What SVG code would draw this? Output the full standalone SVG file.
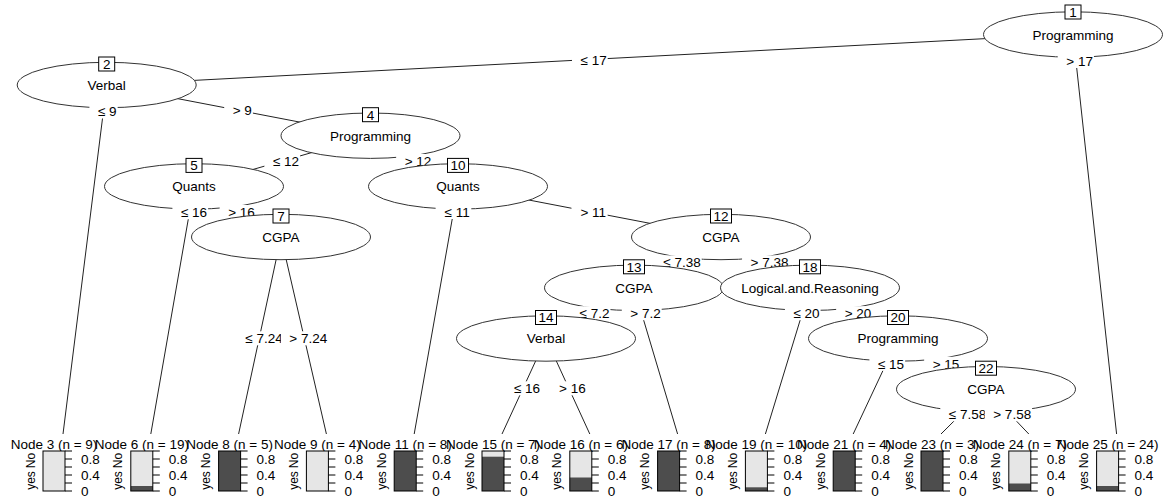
<svg xmlns="http://www.w3.org/2000/svg" xmlns:xlink="http://www.w3.org/1999/xlink" width="1166" height="497" viewBox="0 0 1166 497">
<style>
.t{font-family:"Liberation Sans",Arial,sans-serif;font-size:13.5px;fill:#000}
.c{text-anchor:middle}
.s{font-size:12px}
.ell{fill:#fff;stroke:#333;stroke-width:1}
.idb{fill:#fff;stroke:#000;stroke-width:1}
.lbg{fill:#fff}
.edge{stroke:#222;stroke-width:1;fill:none}
.lt{fill:#e6e6e6}
.dk{fill:#4d4d4d}
.bo{fill:none;stroke:#000;stroke-width:1}
</style>
<defs>
<g id="tAxis">
<path d="M11,451h7M11,459h7M11,467h7M11,475h7M11,483h7M11,491h7" stroke="#000" stroke-width="1"/>
<text class="t" x="27" y="463.8">0.8</text>
<text class="t" x="27" y="479.8">0.4</text>
<text class="t" x="27" y="495.8">0</text>
<text class="t c s" transform="translate(-19.5,460.5) rotate(-90)">No</text>
<text class="t c s" transform="translate(-19.5,480.5) rotate(-90)">yes</text>
</g>
</defs>
<rect x="0" y="0" width="1166" height="497" fill="#fff"/>
<g id="connectors" class="edge">
<path d="M1073,34L106.7,85"/>
<path d="M1073,34L1116.6,434"/>
<path d="M106.7,85L63,434"/>
<path d="M106.7,85L370.5,135.7"/>
<path d="M370.5,135.7L194,186.4"/>
<path d="M370.5,135.7L458,186.4"/>
<path d="M194,186.4L150.8,434"/>
<path d="M194,186.4L281,237"/>
<path d="M281,237L238.6,434"/>
<path d="M281,237L326.4,434"/>
<path d="M458,186.4L414.2,434"/>
<path d="M458,186.4L721,237"/>
<path d="M721,237L634,287.8"/>
<path d="M721,237L810,287.8"/>
<path d="M634,287.8L546,338.5"/>
<path d="M634,287.8L677.6,434"/>
<path d="M546,338.5L502,434"/>
<path d="M546,338.5L589.8,434"/>
<path d="M810,287.8L765.4,434"/>
<path d="M810,287.8L898,338.5"/>
<path d="M898,338.5L853.2,434"/>
<path d="M898,338.5L986,389.2"/>
<path d="M986,389.2L941,434"/>
<path d="M986,389.2L1028.8,434"/>
</g>

<g id="node1"><ellipse class="ell" cx="1073" cy="34.5" rx="89.5" ry="22.7"/><rect class="idb" x="1065" y="5" width="16" height="14"/><text class="t c" x="1073" y="16.8">1</text><text class="t c" x="1073" y="39.8">Programming</text></g>
<g id="labels1"><rect class="lbg" x="572" y="53" width="35.7" height="14"/><text class="t c" x="593.6" y="64.8">≤ 17</text><rect class="lbg" x="1057.75" y="54" width="36.2" height="14"/><text class="t c" x="1079.6" y="65.8">&gt; 17</text></g>

<g id="node2"><ellipse class="ell" cx="106.7" cy="85" rx="89.5" ry="22.7"/><rect class="idb" x="98.7" y="57" width="16" height="14"/><text class="t c" x="106.7" y="68.8">2</text><text class="t c" x="106.7" y="89.8">Verbal</text></g>
<g id="labels2"><rect class="lbg" x="89.45" y="104.5" width="28.2" height="14"/><text class="t c" x="107.3" y="116.3">≤ 9</text><rect class="lbg" x="224.2" y="103.5" width="28.7" height="14"/><text class="t c" x="242.3" y="115.3">&gt; 9</text></g>

<g id="node3" transform="translate(54,0)"><text class="t c" x="0" y="449">Node 3 (n = 9)</text><rect class="lt" x="-11" y="451" width="22" height="40"/><rect class="bo" x="-11" y="451" width="22" height="40"/><use xlink:href="#tAxis"/></g>

<g id="node4"><ellipse class="ell" cx="370.5" cy="135.7" rx="89.5" ry="22.7"/><rect class="idb" x="362.5" y="107.7" width="16" height="14"/><text class="t c" x="370.5" y="119.5">4</text><text class="t c" x="370.5" y="140.5">Programming</text></g>
<g id="labels4"><rect class="lbg" x="264.4" y="154" width="35.7" height="14"/><text class="t c" x="286" y="165.8">≤ 12</text><rect class="lbg" x="396.15" y="154" width="36.2" height="14"/><text class="t c" x="418" y="165.8">&gt; 12</text></g>

<g id="node5"><ellipse class="ell" cx="194" cy="186.4" rx="89.5" ry="22.7"/><rect class="idb" x="186" y="158.4" width="16" height="14"/><text class="t c" x="194" y="170.2">5</text><text class="t c" x="194" y="191.2">Quants</text></g>
<g id="labels5"><rect class="lbg" x="172.4" y="205.3" width="35.7" height="14"/><text class="t c" x="194" y="217.1">≤ 16</text><rect class="lbg" x="219.65" y="205" width="36.2" height="14"/><text class="t c" x="241.5" y="216.8">&gt; 16</text></g>

<g id="node6" transform="translate(141.8,0)"><text class="t c" x="0" y="449">Node 6 (n = 19)</text><rect class="lt" x="-11" y="451" width="22" height="40"/><rect class="dk" x="-11" y="486" width="22" height="5"/><rect class="bo" x="-11" y="451" width="22" height="40"/><use xlink:href="#tAxis"/></g>

<g id="node7"><ellipse class="ell" cx="281" cy="237" rx="89.5" ry="22.7"/><rect class="idb" x="273" y="209" width="16" height="14"/><text class="t c" x="281" y="220.8">7</text><text class="t c" x="281" y="241.8">CGPA</text></g>
<g id="labels7"><rect class="lbg" x="236.8" y="331.3" width="46.9" height="14"/><text class="t c" x="264" y="343.1">≤ 7.24</text><rect class="lbg" x="280.85" y="331.3" width="47.4" height="14"/><text class="t c" x="308.3" y="343.1">&gt; 7.24</text></g>

<g id="node8" transform="translate(229.6,0)"><text class="t c" x="0" y="449">Node 8 (n = 5)</text><rect class="dk" x="-11" y="451" width="22" height="40"/><rect class="bo" x="-11" y="451" width="22" height="40"/><use xlink:href="#tAxis"/></g>
<g id="node9" transform="translate(317.4,0)"><text class="t c" x="0" y="449">Node 9 (n = 4)</text><rect class="lt" x="-11" y="451" width="22" height="40"/><rect class="bo" x="-11" y="451" width="22" height="40"/><use xlink:href="#tAxis"/></g>

<g id="node10"><ellipse class="ell" cx="458" cy="186.4" rx="89.5" ry="22.7"/><rect class="idb" x="447.5" y="158.4" width="21" height="14"/><text class="t c" x="458" y="170.2">10</text><text class="t c" x="458" y="191.2">Quants</text></g>
<g id="labels10"><rect class="lbg" x="435.6" y="205" width="35.7" height="14"/><text class="t c" x="457.2" y="216.8">≤ 11</text><rect class="lbg" x="571.45" y="205" width="36.2" height="14"/><text class="t c" x="593.3" y="216.8">&gt; 11</text></g>

<g id="node11" transform="translate(405.2,0)"><text class="t c" x="0" y="449">Node 11 (n = 8)</text><rect class="dk" x="-11" y="451" width="22" height="40"/><rect class="bo" x="-11" y="451" width="22" height="40"/><use xlink:href="#tAxis"/></g>

<g id="node12"><ellipse class="ell" cx="721" cy="237" rx="89.5" ry="22.7"/><rect class="idb" x="710.5" y="209" width="21" height="14"/><text class="t c" x="721" y="220.8">12</text><text class="t c" x="721" y="241.8">CGPA</text></g>
<g id="labels12"><rect class="lbg" x="654.8" y="255.4" width="46.9" height="14"/><text class="t c" x="682" y="267.2">≤ 7.38</text><rect class="lbg" x="742.05" y="255.4" width="47.4" height="14"/><text class="t c" x="769.5" y="267.2">&gt; 7.38</text></g>

<g id="node13"><ellipse class="ell" cx="634" cy="287.8" rx="89.5" ry="22.7"/><rect class="idb" x="623.5" y="259.8" width="21" height="14"/><text class="t c" x="634" y="271.6">13</text><text class="t c" x="634" y="292.6">CGPA</text></g>
<g id="labels13"><rect class="lbg" x="571.05" y="306.2" width="39.4" height="14"/><text class="t c" x="594.5" y="318">≤ 7.2</text><rect class="lbg" x="621.8" y="306.2" width="39.9" height="14"/><text class="t c" x="645.5" y="318">&gt; 7.2</text></g>

<g id="node14"><ellipse class="ell" cx="546" cy="338.5" rx="89.5" ry="22.7"/><rect class="idb" x="535.5" y="310.5" width="21" height="14"/><text class="t c" x="546" y="322.3">14</text><text class="t c" x="546" y="343.3">Verbal</text></g>
<g id="labels14"><rect class="lbg" x="505.4" y="381.3" width="35.7" height="14"/><text class="t c" x="527" y="393.1">≤ 16</text><rect class="lbg" x="550.55" y="381.3" width="36.2" height="14"/><text class="t c" x="572.4" y="393.1">&gt; 16</text></g>

<g id="node15" transform="translate(493,0)"><text class="t c" x="0" y="449">Node 15 (n = 7)</text><rect class="lt" x="-11" y="451" width="22" height="40"/><rect class="dk" x="-11" y="456.7" width="22" height="34.3"/><rect class="bo" x="-11" y="451" width="22" height="40"/><use xlink:href="#tAxis"/></g>
<g id="node16" transform="translate(580.8,0)"><text class="t c" x="0" y="449">Node 16 (n = 6)</text><rect class="lt" x="-11" y="451" width="22" height="40"/><rect class="dk" x="-11" y="477.5" width="22" height="13.5"/><rect class="bo" x="-11" y="451" width="22" height="40"/><use xlink:href="#tAxis"/></g>
<g id="node17" transform="translate(668.6,0)"><text class="t c" x="0" y="449">Node 17 (n = 8)</text><rect class="dk" x="-11" y="451" width="22" height="40"/><rect class="bo" x="-11" y="451" width="22" height="40"/><use xlink:href="#tAxis"/></g>

<g id="node18"><ellipse class="ell" cx="810" cy="287.8" rx="89.5" ry="22.7"/><rect class="idb" x="799.5" y="259.8" width="21" height="14"/><text class="t c" x="810" y="271.6">18</text><text class="t c" x="810" y="292.6">Logical.and.Reasoning</text></g>
<g id="labels18"><rect class="lbg" x="784.9" y="306.2" width="35.7" height="14"/><text class="t c" x="806.5" y="318">≤ 20</text><rect class="lbg" x="836.15" y="306.2" width="36.2" height="14"/><text class="t c" x="858" y="318">&gt; 20</text></g>

<g id="node19" transform="translate(756.4,0)"><text class="t c" x="0" y="449">Node 19 (n = 10)</text><rect class="lt" x="-11" y="451" width="22" height="40"/><rect class="dk" x="-11" y="487.3" width="22" height="3.7"/><rect class="bo" x="-11" y="451" width="22" height="40"/><use xlink:href="#tAxis"/></g>

<g id="node20"><ellipse class="ell" cx="898" cy="338.5" rx="89.5" ry="22.7"/><rect class="idb" x="887.5" y="310.5" width="21" height="14"/><text class="t c" x="898" y="322.3">20</text><text class="t c" x="898" y="343.3">Programming</text></g>
<g id="labels20"><rect class="lbg" x="869.4" y="356.8" width="35.7" height="14"/><text class="t c" x="891" y="368.6">≤ 15</text><rect class="lbg" x="924.15" y="356.8" width="36.2" height="14"/><text class="t c" x="946" y="368.6">&gt; 15</text></g>

<g id="node21" transform="translate(844.2,0)"><text class="t c" x="0" y="449">Node 21 (n = 4)</text><rect class="dk" x="-11" y="451" width="22" height="40"/><rect class="bo" x="-11" y="451" width="22" height="40"/><use xlink:href="#tAxis"/></g>

<g id="node22"><ellipse class="ell" cx="986" cy="389.2" rx="89.5" ry="22.7"/><rect class="idb" x="975.5" y="361.2" width="21" height="14"/><text class="t c" x="986" y="373">22</text><text class="t c" x="986" y="394">CGPA</text></g>
<g id="labels22"><rect class="lbg" x="940.3" y="407.3" width="46.9" height="14"/><text class="t c" x="967.5" y="419.1">≤ 7.58</text><rect class="lbg" x="984.75" y="407.3" width="47.4" height="14"/><text class="t c" x="1012.2" y="419.1">&gt; 7.58</text></g>

<g id="node23" transform="translate(932,0)"><text class="t c" x="0" y="449">Node 23 (n = 3)</text><rect class="dk" x="-11" y="451" width="22" height="40"/><rect class="bo" x="-11" y="451" width="22" height="40"/><use xlink:href="#tAxis"/></g>
<g id="node24" transform="translate(1019.8,0)"><text class="t c" x="0" y="449">Node 24 (n = 7)</text><rect class="lt" x="-11" y="451" width="22" height="40"/><rect class="dk" x="-11" y="483.5" width="22" height="7.5"/><rect class="bo" x="-11" y="451" width="22" height="40"/><use xlink:href="#tAxis"/></g>
<g id="node25" transform="translate(1107.6,0)"><text class="t c" x="0" y="449">Node 25 (n = 24)</text><rect class="lt" x="-11" y="451" width="22" height="40"/><rect class="dk" x="-11" y="486" width="22" height="5"/><rect class="bo" x="-11" y="451" width="22" height="40"/><use xlink:href="#tAxis"/></g>
</svg>
